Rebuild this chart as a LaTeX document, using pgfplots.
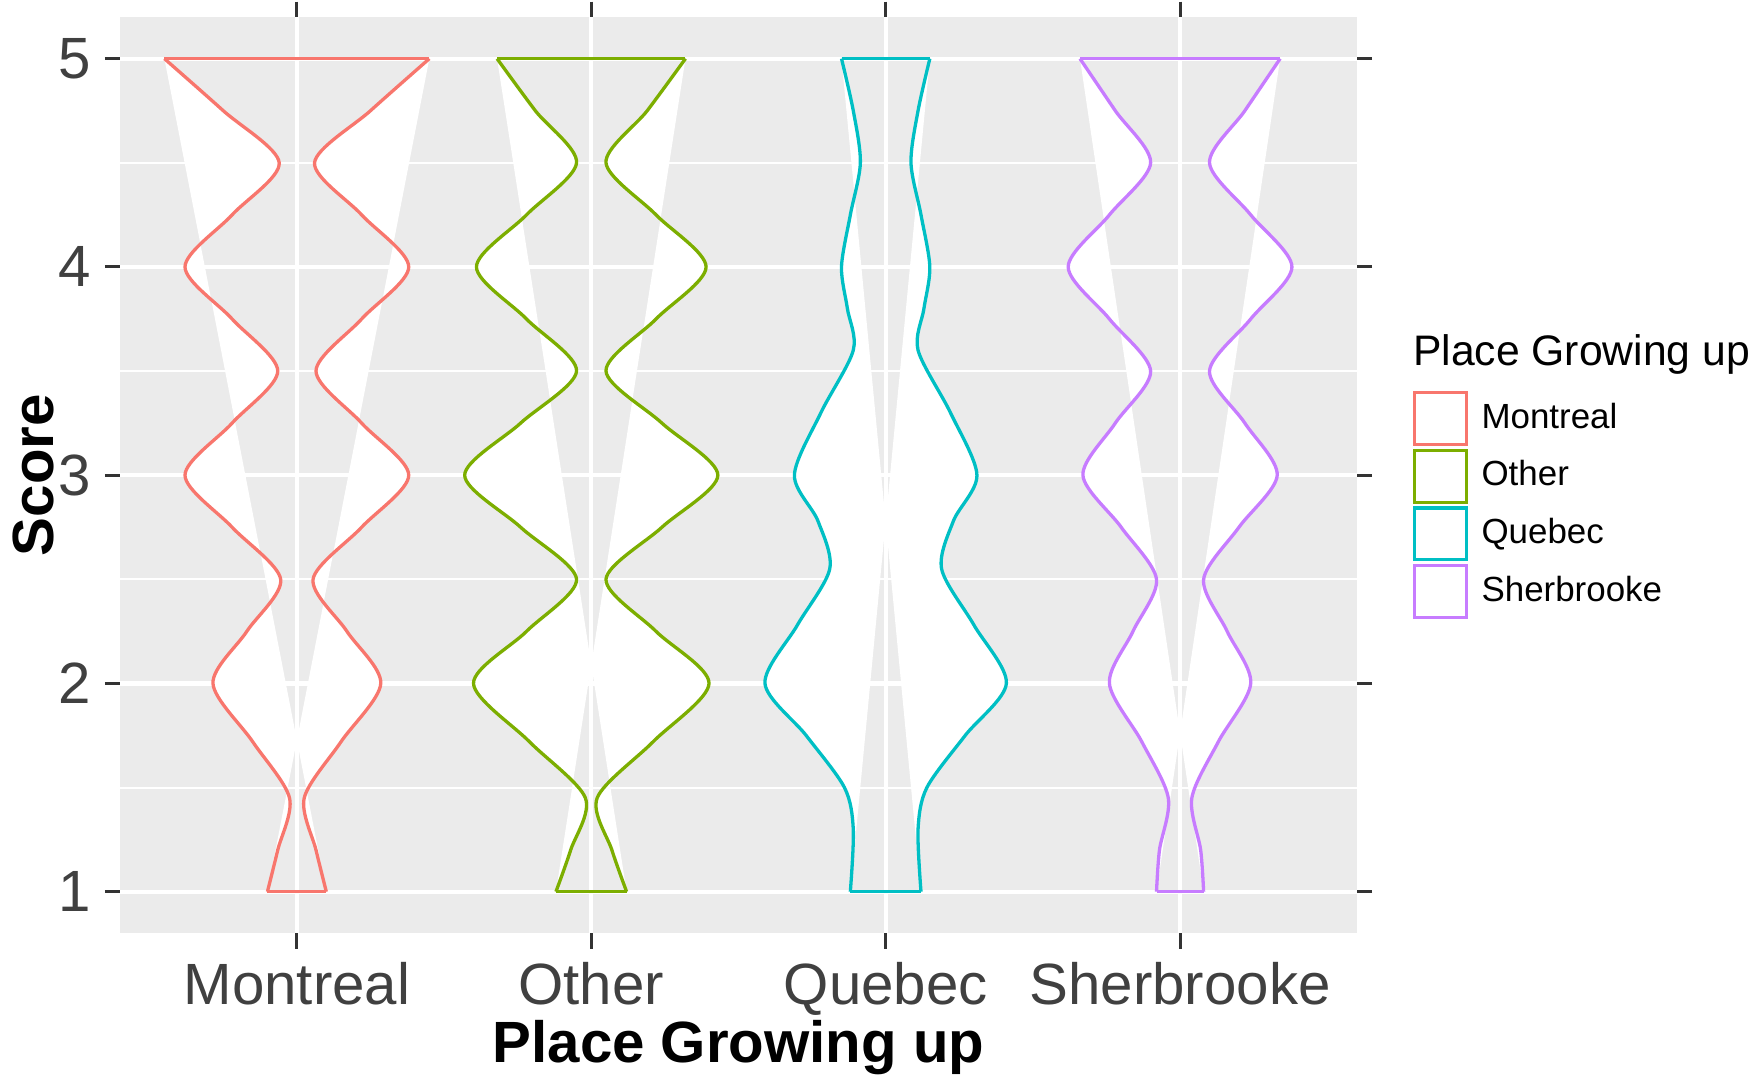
\documentclass[border=0pt]{standalone}
\usepackage{pgfplots}
\usepackage{pgfplotstable}
\pgfplotsset{compat=1.18}
\usepgfplotslibrary{fillbetween}
\usepackage{fontspec}
\setmainfont{Liberation Sans}
\definecolor{cM}{HTML}{F8766D}
\definecolor{cO}{HTML}{7CAE00}
\definecolor{cQ}{HTML}{00BFC4}
\definecolor{cS}{HTML}{C77CFF}
\pgfplotstableread{
y w
1 0.10
1.2 0.065
1.45 0.025
1.72 0.15
2 0.285
2.25 0.17
2.5 0.055
2.75 0.22
3 0.38
3.25 0.22
3.5 0.065
3.75 0.22
4 0.38
4.25 0.22
4.5 0.06
4.75 0.25
5 0.45
}\tM
\pgfplotstableread{
y w
1 0.12
1.2 0.07
1.45 0.02
1.72 0.21
2 0.40
2.25 0.22
2.5 0.05
2.75 0.24
3 0.43
3.25 0.24
3.5 0.05
3.75 0.22
4 0.39
4.25 0.22
4.5 0.05
4.75 0.19
5 0.32
}\tO
\pgfplotstableread{
y w
1 0.12
1.3 0.11
1.5 0.14
1.75 0.27
2 0.41
2.28 0.30
2.55 0.19
2.78 0.23
3 0.31
3.3 0.22
3.6 0.11
3.8 0.13
4 0.15
4.25 0.12
4.5 0.086
4.75 0.11
5 0.15
}\tQ
\pgfplotstableread{
y w
1 0.08
1.2 0.07
1.45 0.04
1.72 0.13
2 0.24
2.25 0.16
2.5 0.08
2.75 0.20
3 0.33
3.25 0.22
3.5 0.10
3.75 0.24
4 0.38
4.25 0.24
4.5 0.10
4.75 0.22
5 0.34
}\tS
\begin{document}
\begin{tikzpicture}
\begin{axis}[
  scale only axis, width=11.2cm, height=8.3cm,
  xmin=0.4, xmax=4.6, ymin=0.8, ymax=5.2,
  axis background/.style={fill=black!8},
  axis line style={draw=none},
  xtick={1,2,3,4}, xticklabels={Montreal,Other,Quebec,Sherbrooke},
  ytick={1,2,3,4,5}, minor ytick={1.5,2.5,3.5,4.5},
  grid=both,
  major grid style={white, line width=1.1pt},
  minor grid style={white, line width=0.5pt},
  tick align=outside, major tick length=1.4mm, minor tick length=0pt,
  tick style={black!80, line width=0.8pt},
  ticklabel style={font=\fontsize{15}{18}\selectfont, text=black!75},
  xlabel={\textbf{Place Growing up}}, ylabel={\textbf{Score}},
  label style={font=\fontsize{15}{18}\selectfont},
  xlabel style={yshift=2mm}, ylabel style={yshift=-2mm},
  /pgf/number format/assume math mode=true,
  clip=false,
  every axis plot/.append style={line width=0.85pt},
  legend style={at={(rel axis cs:1.045,0.594)}, anchor=north west, draw=none, fill=none,
    font=\fontsize{9}{11}\selectfont, row sep=0pt, inner sep=0pt,
    nodes={inner sep=1.2mm}},
  legend cell align=left,
]
\addlegendimage{legend image code/.code={\draw[cM,line width=0.85pt,fill=white] (0,-2.35mm) rectangle (4.7mm,2.35mm);}}
\addlegendentry{Montreal}
\addlegendimage{legend image code/.code={\draw[cO,line width=0.85pt,fill=white] (0,-2.35mm) rectangle (4.7mm,2.35mm);}}
\addlegendentry{Other}
\addlegendimage{legend image code/.code={\draw[cQ,line width=0.85pt,fill=white] (0,-2.35mm) rectangle (4.7mm,2.35mm);}}
\addlegendentry{Quebec}
\addlegendimage{legend image code/.code={\draw[cS,line width=0.85pt,fill=white] (0,-2.35mm) rectangle (4.7mm,2.35mm);}}
\addlegendentry{Sherbrooke}
\addplot[cM, smooth, name path=MR, forget plot] table[x expr=1+\thisrow{w}, y=y]{\tM};
\addplot[cM, smooth, name path=ML, forget plot] table[x expr=1-\thisrow{w}, y=y]{\tM};
\addplot[white, forget plot] fill between[of=MR and ML];
\addplot[cM, forget plot] coordinates {(0.55,5)(1.45,5)};
\addplot[cM, forget plot] coordinates {(0.9,1)(1.1,1)};
\addplot[cO, smooth, name path=OR, forget plot] table[x expr=2+\thisrow{w}, y=y]{\tO};
\addplot[cO, smooth, name path=OL, forget plot] table[x expr=2-\thisrow{w}, y=y]{\tO};
\addplot[white, forget plot] fill between[of=OR and OL];
\addplot[cO, forget plot] coordinates {(1.68,5)(2.32,5)};
\addplot[cO, forget plot] coordinates {(1.88,1)(2.12,1)};
\addplot[cQ, smooth, name path=QR, forget plot] table[x expr=3+\thisrow{w}, y=y]{\tQ};
\addplot[cQ, smooth, name path=QL, forget plot] table[x expr=3-\thisrow{w}, y=y]{\tQ};
\addplot[white, forget plot] fill between[of=QR and QL];
\addplot[cQ, forget plot] coordinates {(2.85,5)(3.15,5)};
\addplot[cQ, forget plot] coordinates {(2.88,1)(3.12,1)};
\addplot[cS, smooth, name path=SR, forget plot] table[x expr=4+\thisrow{w}, y=y]{\tS};
\addplot[cS, smooth, name path=SL, forget plot] table[x expr=4-\thisrow{w}, y=y]{\tS};
\addplot[white, forget plot] fill between[of=SR and SL];
\addplot[cS, forget plot] coordinates {(3.66,5)(4.34,5)};
\addplot[cS, forget plot] coordinates {(3.92,1)(4.08,1)};
\node[anchor=west, font=\fontsize{11}{13}\selectfont, inner sep=0pt] at (rel axis cs:1.045,0.632) {Place Growing up};
\end{axis}
\end{tikzpicture}
\end{document}
